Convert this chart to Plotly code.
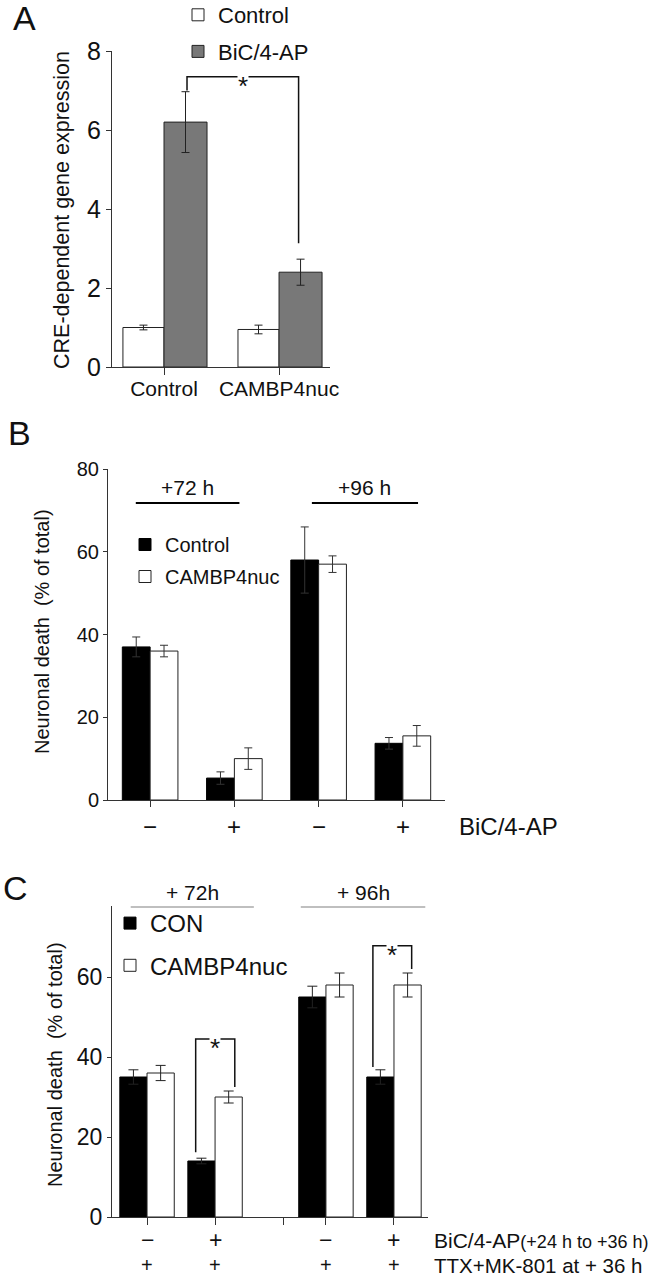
import plotly.graph_objects as go

W, H = 664, 1280
FONT = "Liberation Sans, Arial, Helvetica, sans-serif"

# ---- panel A : CRE-dependent gene expression
a_groups = ["Control", "CAMBP4nuc"]
a_ctrl = [1.0, 0.95]
a_ctrl_err = [0.06, 0.11]
a_bic = [6.2, 2.4]
a_bic_err = [0.77, 0.33]

# ---- panel B : neuronal death, BiC/4-AP
b_sign = ["−", "+", "−", "+"]
b_ctrl = [37.0, 5.3, 58.0, 13.7]
b_ctrl_err = [2.4, 1.5, 8.0, 1.4]
b_camb = [36.0, 10.0, 57.0, 15.5]
b_camb_err = [1.4, 2.6, 2.0, 2.5]

# ---- panel C : neuronal death, TTX+MK-801 rescue
c_bic_sign = ["−", "+", "−", "+"]
c_ttx_sign = ["+", "+", "+", "+"]
c_con = [35.0, 14.0, 55.0, 35.0]
c_con_err = [1.8, 0.7, 2.7, 1.8]
c_camb = [36.0, 30.0, 58.0, 58.0]
c_camb_err = [1.9, 1.5, 3.0, 3.0]


def px(x):
    return x / W


def py(y):
    return 1 - y / H


# group positions on the numeric x axes
a_pos = [0, 1]
b_pos = [0, 1, 2, 3]
c_pos = [0, 1, 2.63, 3.63]
c_sep = 2.0

fig = go.Figure()

def err(arr, color="#222", width=4):
    return dict(type="data", array=arr, color=color, thickness=1, width=width)

# A
fig.add_trace(go.Bar(x=a_pos, y=a_ctrl, offset=-0.357, width=0.357, name="Control",
                     marker=dict(color="white", line=dict(color="#222", width=1)),
                     error_y=err(a_ctrl_err), xaxis="x", yaxis="y", legend="legend",
                     legendgroup="a1"))
fig.add_trace(go.Bar(x=a_pos, y=a_bic, offset=0, width=0.374, name="BiC/4-AP",
                     marker=dict(color="#787878", line=dict(color="#222", width=1)),
                     error_y=err(a_bic_err), xaxis="x", yaxis="y", legend="legend",
                     legendgroup="a2"))
# B
fig.add_trace(go.Bar(x=b_pos, y=b_ctrl, offset=-0.33, width=0.33, name="Control",
                     marker=dict(color="black", line=dict(color="black", width=1)),
                     error_y=err(b_ctrl_err, "#333", 4), xaxis="x2", yaxis="y2",
                     legend="legend2", legendgroup="b1"))
fig.add_trace(go.Bar(x=b_pos, y=b_camb, offset=0, width=0.33, name="CAMBP4nuc",
                     marker=dict(color="white", line=dict(color="#222", width=1)),
                     error_y=err(b_camb_err, "#333", 4), xaxis="x2", yaxis="y2",
                     legend="legend2", legendgroup="b2"))
# C
fig.add_trace(go.Bar(x=c_pos, y=c_con, offset=-0.4, width=0.4, name="CON",
                     marker=dict(color="black", line=dict(color="black", width=1)),
                     error_y=err(c_con_err, "#222", 5), xaxis="x3", yaxis="y3",
                     legend="legend3", legendgroup="c1"))
fig.add_trace(go.Bar(x=c_pos, y=c_camb, offset=0, width=0.4, name="CAMBP4nuc",
                     marker=dict(color="white", line=dict(color="#222", width=1)),
                     error_y=err(c_camb_err, "#222", 5), xaxis="x3", yaxis="y3",
                     legend="legend3", legendgroup="c2"))

axis_common = dict(showgrid=False, zeroline=False, showline=True, linecolor="#333",
                   linewidth=1, ticks="outside", tickcolor="#333", fixedrange=True)

shapes = []
annotations = []


def bracket(xr, yr, x0, x1, y0, y1, top):
    shapes.append(dict(type="path", xref=xr, yref=yr,
                       path=f"M {x0},{y0} L {x0},{top} L {x1},{top} L {x1},{y1}",
                       line=dict(color="#111", width=1.5)))
    annotations.append(dict(x=(x0 + x1) / 2, y=top, xref=xr, yref=yr, text="*",
                            showarrow=False, font=dict(size=26, color="#111"),
                            bgcolor="white", borderpad=0, yshift=-9))


def label(x, y, text, size, xref="paper", yref="paper", xanchor="center", **kw):
    annotations.append(dict(x=x, y=y, xref=xref, yref=yref, text=text, showarrow=False,
                            xanchor=xanchor, yanchor="middle",
                            font=dict(size=size, color="#111"), **kw))


# ---------- A layout pieces
bracket("x", "y", a_pos[0] + 0.2, a_pos[1] + 0.17,
        a_bic[0] + a_bic_err[0] + 0.03, a_bic[1] + a_bic_err[1] + 0.4, 7.35)
label(px(62), py(210), "CRE-dependent gene expression", 21.5, textangle=-90)
label(px(24), py(18), "A", 34)

# ---------- B layout pieces
for (x0, x1, txt) in [(-0.17, 1.06, "+72 h"), (1.92, 3.18, "+96 h")]:
    shapes.append(dict(type="line", xref="x2", yref="paper", x0=x0, x1=x1,
                       y0=py(503), y1=py(503), line=dict(color="black", width=2)))
    label((x0 + x1) / 2, py(487), txt, 21, xref="x2")
for p, s in zip(b_pos, b_sign):
    label(p, py(826), s, 24, xref="x2")
label(px(457), py(826), "BiC/4-AP", 24, xanchor="left")
label(px(42), py(632), "Neuronal death  (% of total)", 20, textangle=-90)
label(px(19), py(433), "B", 34)

# ---------- C layout pieces
for (x0, x1, txt) in [(-0.24, 1.57, "+ 72h"), (2.26, 4.09, "+ 96h")]:
    shapes.append(dict(type="line", xref="x3", yref="paper", x0=x0, x1=x1,
                       y0=py(907), y1=py(907), line=dict(color="#aaa", width=1.5)))
    label((x0 + x1) / 2, py(892), txt, 21, xref="x3")
bracket("x3", "y3", c_pos[1] - 0.285, c_pos[1] + 0.29,
        c_con[1] + c_con_err[1] + 1.5, c_camb[1] + c_camb_err[1] + 1, 44.5)
bracket("x3", "y3", c_pos[3] - 0.31, c_pos[3] + 0.26,
        c_con[3] + c_con_err[3] + 0.7, c_camb[3] + c_camb_err[3] + 1, 67.8)
for p, s1, s2 in zip(c_pos, c_bic_sign, c_ttx_sign):
    label(p, py(1240), s1, 23, xref="x3")
    label(p, py(1265), s2, 20, xref="x3")
label(px(432), py(1240),
      "BiC/4-AP<span style='font-size:18px'>(+24 h to +36 h)</span>", 21, xanchor="left")
label(px(432), py(1265), "TTX+MK-801 at + 36 h", 20.5, xanchor="left")
label(px(55), py(1065), "Neuronal death  (% of total)", 20, textangle=-90)
label(px(15), py(888), "C", 34)

legend_common = dict(xanchor="left", yanchor="top", bgcolor="rgba(0,0,0,0)",
                     traceorder="grouped", orientation="v")

fig.update_layout(
    width=W, height=H,
    margin=dict(l=0, r=0, t=0, b=0, autoexpand=False),
    paper_bgcolor="white", plot_bgcolor="white",
    font=dict(family=FONT, color="#111"),
    barmode="overlay",
    showlegend=True,
    xaxis=dict(axis_common, domain=[px(112), px(330)], range=[-0.452, 1.443],
               tickvals=a_pos, ticktext=a_groups, ticklen=7, tickfont=dict(size=21),
               ticklabelstandoff=-4, anchor="y"),
    yaxis=dict(axis_common, domain=[py(367), py(51)], range=[0, 8],
               tickvals=[0, 2, 4, 6, 8], ticklen=5, tickfont=dict(size=25), anchor="x"),
    xaxis2=dict(axis_common, domain=[px(108), px(445)], range=[-0.5, 3.5],
                tickvals=b_pos, showticklabels=False, ticklen=6, anchor="y2"),
    yaxis2=dict(axis_common, domain=[py(800), py(469)], range=[0, 80],
                tickvals=[0, 20, 40, 60, 80], ticklen=4, tickfont=dict(size=20),
                anchor="x2"),
    xaxis3=dict(axis_common, domain=[px(112), px(428)], range=[-0.515, 4.13],
                tickvals=c_pos[:2] + [c_sep] + c_pos[2:], showticklabels=False,
                ticklen=7, anchor="y3"),
    yaxis3=dict(axis_common, domain=[py(1217), py(906)], range=[0, 77.75],
                tickvals=[0, 20, 40, 60], ticklen=4, tickfont=dict(size=23),
                anchor="x3"),
    legend=dict(legend_common, x=px(178), y=py(-6), font=dict(size=22), tracegroupgap=5),
    legend2=dict(legend_common, x=px(125), y=py(525), font=dict(size=20), tracegroupgap=3),
    legend3=dict(legend_common, x=px(110), y=py(901), font=dict(size=24), tracegroupgap=8),
    shapes=shapes,
    annotations=annotations,
)

# the page body has a default 8px margin; drop it so the figure fills the window
fig.write_html("out.html", config={"displayModeBar": False},
               post_script="document.body.style.margin = '0';")
